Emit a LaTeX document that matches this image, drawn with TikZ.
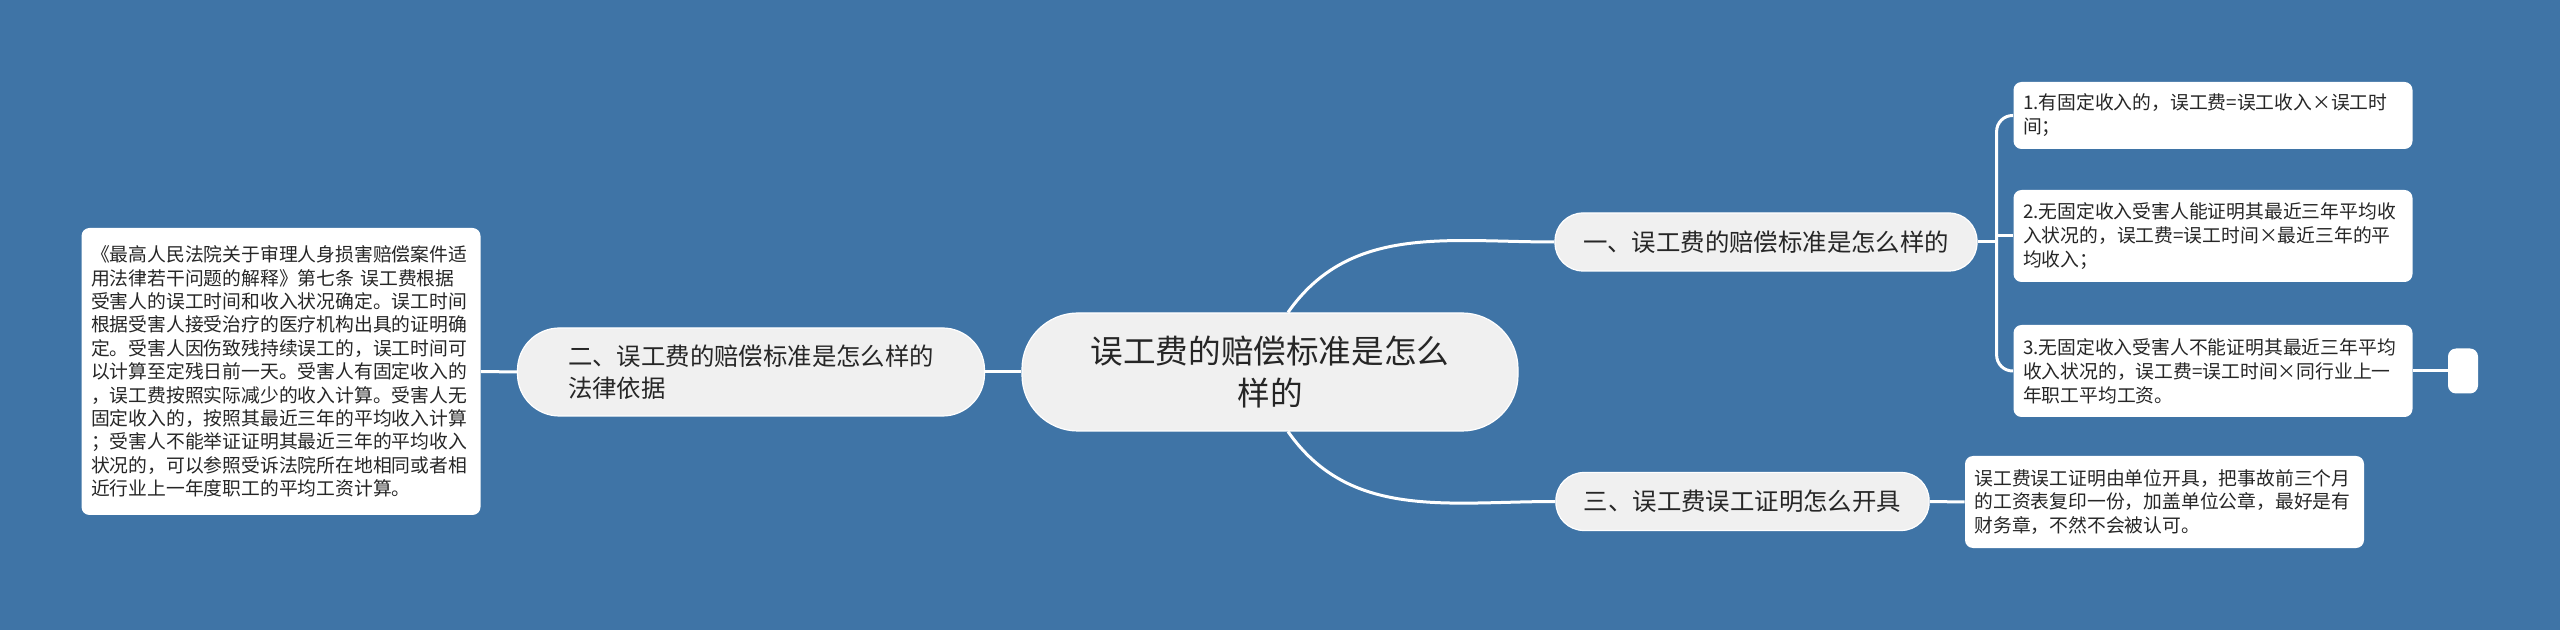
\documentclass[tikz,border=0pt]{standalone}
\usepackage{fontspec}
\setmainfont{Noto Sans CJK SC}
\usetikzlibrary{calc}
\definecolor{bgblue}{RGB}{63,116,166}
\definecolor{topicgray}{RGB}{240,240,240}
\definecolor{textdark}{RGB}{38,38,38}
\newcommand{\drawlink}{\draw[link]}

\begin{document}
\begin{tikzpicture}[x=0.5pt, y=-0.5pt,
    link/.style={white, line width=1.5pt},
    root/.style={fill=topicgray, draw=white, line width=0.6pt, rounded corners=28pt,
        minimum width=248pt, minimum height=59pt, text width=180pt, align=center,
        text=textdark, font=\fontsize{16.3}{21}\selectfont},
    topic/.style={fill=topicgray, draw=white, line width=0.6pt, rounded corners=14pt,
        minimum height=29pt, inner xsep=14pt, text=textdark,
        font=\fontsize{12.2}{16}\selectfont},
    leaf/.style={fill=white, rounded corners=4pt, minimum width=199.5pt,
        text width=190pt, inner xsep=4.5pt, align=left, text=textdark,
        font=\fontsize{9.4}{12}\selectfont}]
    % Background
    \fill[bgblue] (0,0) rectangle (2560,630);
    \useasboundingbox (0,0) rectangle (2560,630);

    % Draw topics
    \node[root] (root) at (1270,372) {误工费的赔偿标准是怎么\\样的};
    \node[topic, rounded corners=21pt, minimum width=233.5pt, minimum height=44pt,
        text width=183pt, align=left] (legal) at (751,372)
        {二、误工费的赔偿标准是怎么样的\\法律依据};
    \node[topic] (calc) at (1766,242) {一、误工费的赔偿标准是怎么样的};
    \node[topic] (cert) at (1742.5,501.5) {三、误工费误工证明怎么开具};

    % Draw leaves
    \node[leaf, minimum height=143.5pt, font=\fontsize{9.4}{11.7}\selectfont]
        (lawtext) at (281,371.5)
        {《最高人民法院关于审理人身损害赔偿案件适\\
        用法律若干问题的解释》第七条 误工费根据\\
        受害人的误工时间和收入状况确定。误工时间\\
        根据受害人接受治疗的医疗机构出具的证明确\\
        定。受害人因伤致残持续误工的，误工时间可\\
        以计算至定残日前一天。受害人有固定收入的\\
        ，误工费按照实际减少的收入计算。受害人无\\
        固定收入的，按照其最近三年的平均收入计算\\
        ；受害人不能举证证明其最近三年的平均收入\\
        状况的，可以参照受诉法院所在地相同或者相\\
        近行业上一年度职工的平均工资计算。};
    \node[leaf, minimum height=33.5pt] (calc1) at (2213,115.5)
        {1.有固定收入的，误工费=误工收入×误工时\\间；};
    \node[leaf, minimum height=46pt] (calc2) at (2213,236)
        {2.无固定收入受害人能证明其最近三年平均收\\入状况的，误工费=误工时间×最近三年的平\\均收入；};
    \node[leaf, minimum height=46pt] (calc3) at (2213,371)
        {3.无固定收入受害人不能证明其最近三年平均\\收入状况的，误工费=误工时间×同行业上一\\年职工平均工资。};
    \node[fill=white, rounded corners=4pt, minimum width=15pt, minimum height=22.5pt,
        inner sep=0pt] (blank) at (2463,371) {};
    \node[leaf, minimum height=46pt, font=\fontsize{9.4}{11.6}\selectfont]
        (certleaf) at (2164.5,502)
        {误工费误工证明由单位开具，把事故前三个月\\的工资表复印一份，加盖单位公章，最好是有\\财务章，不然不会被认可。};

    % Draw links
    \drawlink (lawtext.east) -- (legal.west);
    \drawlink (legal.east) -- (root.west);
    \drawlink ([xshift=9pt]root.north) to[out=55, in=180] (calc.west);
    \drawlink ([xshift=9pt]root.south) to[out=-55, in=180] (cert.west);
    \coordinate (fork) at ($(calc.east)+(19,0)$);
    \drawlink (calc.east) -- (fork);
    \draw[link, rounded corners=8pt] (calc1.west) -| (fork) |- (calc3.west);
    \drawlink (fork |- calc2.west) -- (calc2.west);
    \drawlink (calc3.east) -- (blank.west);
    \drawlink (cert.east) -- (certleaf.west);
\end{tikzpicture}
\end{document}
